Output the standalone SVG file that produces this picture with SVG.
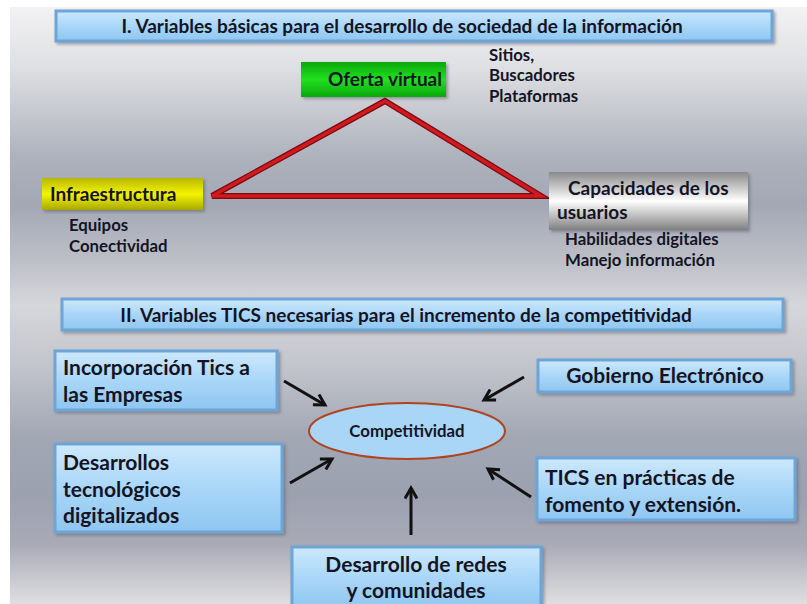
<svg xmlns="http://www.w3.org/2000/svg" width="807" height="604" viewBox="0 0 807 604">
<defs>
<linearGradient id="bg" x1="0" y1="0" x2="0" y2="1">
<stop offset="0" stop-color="#f2f2f4"/>
<stop offset="0.1" stop-color="#dfe0e3"/>
<stop offset="0.25" stop-color="#aeb2bc"/>
<stop offset="0.33" stop-color="#a3a8b5"/>
<stop offset="0.42" stop-color="#bcbec6"/>
<stop offset="0.5" stop-color="#d6d7db"/>
<stop offset="0.6" stop-color="#c3c5cc"/>
<stop offset="0.72" stop-color="#a2a7b4"/>
<stop offset="0.82" stop-color="#9ca1b0"/>
<stop offset="0.9" stop-color="#a9aab6"/>
<stop offset="1" stop-color="#dfdfe1"/>
</linearGradient>
<linearGradient id="blue" x1="0" y1="0" x2="0" y2="1">
<stop offset="0" stop-color="#cde9fc"/>
<stop offset="0.5" stop-color="#a9d6f8"/>
<stop offset="1" stop-color="#8fc6f0"/>
</linearGradient>
<linearGradient id="green" x1="0" y1="0" x2="0" y2="1">
<stop offset="0" stop-color="#0aa70a"/>
<stop offset="0.5" stop-color="#22e022"/>
<stop offset="1" stop-color="#0aa70a"/>
</linearGradient>
<linearGradient id="yellow" x1="0" y1="0" x2="0" y2="1">
<stop offset="0" stop-color="#b8b800"/>
<stop offset="0.5" stop-color="#f4f400"/>
<stop offset="1" stop-color="#a8a800"/>
</linearGradient>
<linearGradient id="silver" x1="0" y1="0" x2="0" y2="1">
<stop offset="0" stop-color="#8a8a8a"/>
<stop offset="0.5" stop-color="#ffffff"/>
<stop offset="1" stop-color="#808080"/>
</linearGradient>
<marker id="ah" viewBox="0 0 10 10" refX="8" refY="5" markerWidth="5" markerHeight="5" orient="auto" markerUnits="strokeWidth">
<path d="M1,1 L8,5 L1,9" fill="none" stroke="#111" stroke-width="2"/>
</marker>
<filter id="sh" x="-5%" y="-10%" width="115%" height="130%">
<feDropShadow dx="2" dy="2" stdDeviation="1.5" flood-color="#556" flood-opacity="0.5"/>
</filter>
</defs>
<style>
text{font-family:Lato,"Liberation Sans",sans-serif;font-weight:bold;fill:#141424}
.bx{fill:url(#blue);stroke:#6da6d6;stroke-width:3;filter:url(#sh)}
.t19{font-size:19px}
.t17{font-size:16.8px}
.t21{font-size:21px}
.mid{text-anchor:middle}
.arr{stroke:#111;stroke-width:3;fill:none;marker-end:url(#ah)}
</style>
<rect x="0" y="0" width="807" height="604" fill="#ffffff"/>
<rect x="10" y="7" width="797" height="597" fill="url(#bg)"/>

<g id="title1">
<rect class="bx" x="56" y="11" width="716" height="30"/>
<text class="t19 mid" x="402" y="33">I. Variables básicas para el desarrollo de sociedad de la información</text>
</g>

<g id="oferta">
<rect x="301" y="62" width="145" height="35" fill="url(#green)" filter="url(#sh)"/>
<text class="t19 mid" x="385" y="86">Oferta virtual</text>
</g>
<g id="oferta-notes">
<text class="t17" x="489" y="61">Sitios,</text>
<text class="t17" x="489" y="81">Buscadores</text>
<text class="t17" x="489" y="102">Plataformas</text>
</g>

<g id="connectors-triangle">
<polygon points="385,101 212,196 541,196" fill="none" stroke="#7a0a0e" stroke-width="6" stroke-linejoin="miter"/>
<polygon points="385,101 212,196 541,196" fill="none" stroke="#d01a20" stroke-width="3.5" stroke-linejoin="miter"/>
</g>

<g id="infraestructura">
<rect x="42" y="178" width="161" height="32" fill="url(#yellow)" filter="url(#sh)"/>
<text class="t19" x="50" y="201">Infraestructura</text>
</g>
<g id="infra-notes">
<text class="t17" x="69" y="231">Equipos</text>
<text class="t17" x="69" y="252">Conectividad</text>
</g>

<g id="capacidades">
<rect x="549" y="172" width="199" height="58" fill="url(#silver)" filter="url(#sh)"/>
<text class="t19" x="568" y="195">Capacidades de los</text>
<text class="t19" x="557" y="219">usuarios</text>
</g>
<g id="capacidades-notes">
<text class="t17" x="565" y="245">Habilidades digitales</text>
<text class="t17" x="565" y="266">Manejo información</text>
</g>

<g id="title2">
<rect class="bx" x="62" y="299" width="721" height="31"/>
<text class="t19 mid" x="406" y="322">II. Variables TICS necesarias para el incremento de la competitividad</text>
</g>

<g id="incorporacion">
<rect class="bx" x="55" y="351" width="222" height="59"/>
<text class="t21" x="63" y="375">Incorporación Tics a</text>
<text class="t21" x="63" y="402">las Empresas</text>
</g>

<g id="gobierno">
<rect class="bx" x="538" y="360" width="253" height="32"/>
<text class="t21 mid" x="665" y="383">Gobierno Electrónico</text>
</g>

<g id="competitividad">
<ellipse cx="407" cy="431" rx="98" ry="28" fill="#a9d5f6" stroke="#b0441e" stroke-width="2"/>
<text class="t17 mid" x="407" y="437">Competitividad</text>
</g>

<g id="desarrollos">
<rect class="bx" x="55" y="444" width="227" height="88"/>
<text class="t21" x="63" y="470">Desarrollos</text>
<text class="t21" x="63" y="497">tecnológicos</text>
<text class="t21" x="63" y="523">digitalizados</text>
</g>

<g id="tics">
<rect class="bx" x="537" y="458" width="258" height="62"/>
<text class="t21" x="545" y="485">TICS en prácticas de</text>
<text class="t21" x="545" y="512">fomento y extensión.</text>
</g>

<g id="redes">
<rect class="bx" x="292" y="547" width="249" height="62"/>
<text class="t21 mid" x="416" y="572">Desarrollo de redes</text>
<text class="t21 mid" x="416" y="598">y comunidades</text>
</g>

<g id="connectors">
<line class="arr" x1="284" y1="381" x2="325" y2="405"/>
<line class="arr" x1="524" y1="377" x2="484" y2="400"/>
<line class="arr" x1="290" y1="483" x2="332" y2="459"/>
<line class="arr" x1="531" y1="497" x2="488" y2="469"/>
<line class="arr" x1="411" y1="535" x2="411" y2="488"/>
</g>
</svg>
